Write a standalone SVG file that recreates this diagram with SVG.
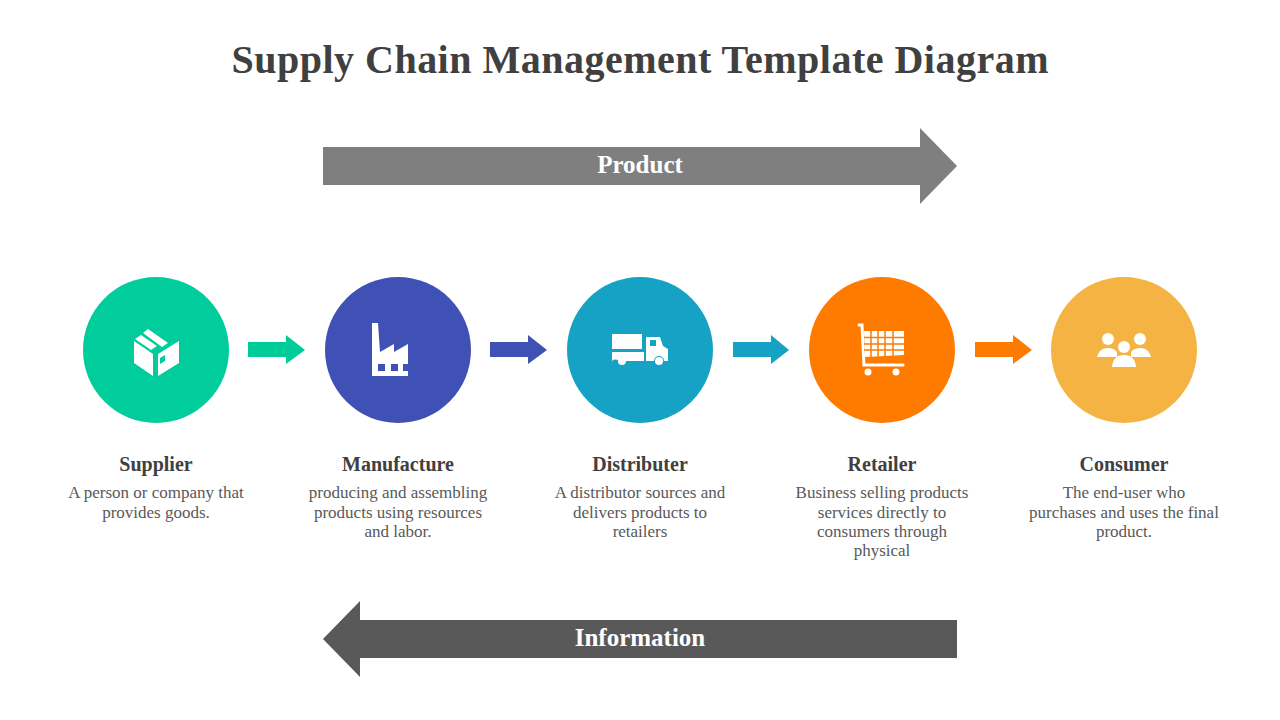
<svg xmlns="http://www.w3.org/2000/svg" width="1280" height="720" viewBox="0 0 1280 720">
<style>
.t{font-family:"Liberation Serif","DejaVu Serif",serif;fill:#404040}
.h{font-weight:bold;font-size:20px;text-anchor:middle}
.d{font-size:17px;text-anchor:middle;fill:#595959}
.w{fill:#fff}
</style>
<rect width="1280" height="720" fill="#fff"/>
<text class="t" x="640" y="73" font-size="40" font-weight="bold" text-anchor="middle" textLength="817" lengthAdjust="spacing">Supply Chain Management Template Diagram</text>
<g id="connectors">
<path d="M323 147H920V128L957 166L920 204V185H323Z" fill="#7f7f7f"/>
<text class="t" x="640" y="173" font-size="25" font-weight="bold" text-anchor="middle" style="fill:#fff">Product</text>
<path d="M957 620H360V601L323 639L360 677V658H957Z" fill="#595959"/>
<text class="t" x="640" y="646" font-size="25" font-weight="bold" text-anchor="middle" style="fill:#fff">Information</text>
<path d="M248 342H286V335L305 350L286 364V357H248Z" fill="#00cc99"/>
<path d="M490 342H528V335L547 350L528 364V357H490Z" fill="#3f51b5"/>
<path d="M733 342H771V335L789 350L771 364V357H733Z" fill="#16a2c4"/>
<path d="M975 342H1013V335L1032 350L1013 364V357H975Z" fill="#ff7b00"/>
</g>
<g id="supplier">
<circle cx="156" cy="350" r="73" fill="#00cc9c"/>
<path class="w" d="M134 341L153 354V376L134 363ZM158 354L179 341V363L158 376ZM135 339L141 335L157 346L151 350ZM143 333L148 329L168 343L162 347Z"/>
<path d="M160 358L165 355V361L160 364Z" fill="#00cc9c"/>
<text class="t h" x="156" y="471">Supplier</text>
<text class="t d" x="156" y="498">A person or company that</text>
<text class="t d" x="156" y="518">provides goods.</text>
</g>
<g id="manufacture">
<circle cx="398" cy="350" r="73" fill="#3f51b5"/>
<path class="w" d="M372 376V323H378L380 352L394 344V352L408 344V376Z"/>
<rect x="378" y="364" width="7" height="7" fill="#3f51b5"/><rect x="391" y="364" width="7" height="7" fill="#3f51b5"/><rect x="403" y="364" width="7" height="7" fill="#3f51b5"/>
<text class="t h" x="398" y="471">Manufacture</text>
<text class="t d" x="398" y="498">producing and assembling</text>
<text class="t d" x="398" y="518">products using resources</text>
<text class="t d" x="398" y="537">and labor.</text>
</g>
<g id="distributer">
<circle cx="640" cy="350" r="73" fill="#16a2c4"/>
<rect class="w" x="612" y="334" width="30" height="15"/>
<path class="w" d="M612 352H644V361H619A5 5 0 0 0 612 361ZM646 337H660L663 346L668 349V361H664A5 5 0 0 0 654 361H646Z"/>
<rect x="650" y="340" width="6" height="6" fill="#16a2c4"/>
<circle class="w" cx="622" cy="361" r="4"/><circle class="w" cx="659" cy="361" r="4"/>
<text class="t h" x="640" y="471">Distributer</text>
<text class="t d" x="640" y="498">A distributor  sources and</text>
<text class="t d" x="640" y="518">delivers products to</text>
<text class="t d" x="640" y="537">retailers</text>
</g>
<g id="retailer">
<circle cx="882" cy="350" r="73" fill="#ff7b00"/>
<path d="M859 325H862L864 365H903" fill="none" stroke="#fff" stroke-width="3" stroke-linecap="round"/>
<path class="w" d="M864 331H904V355L865 357Z"/>
<path d="M864 337.5H904M864 344H904M864 350H904M871 331V357M878 331V357M885 331V357M893 331V357" stroke="#ff7b00" stroke-width="1.5"/>
<circle class="w" cx="868" cy="372" r="3.5"/><circle class="w" cx="896" cy="372" r="3.5"/>
<text class="t h" x="882" y="471">Retailer</text>
<text class="t d" x="882" y="498">Business selling products</text>
<text class="t d" x="882" y="518">services directly to</text>
<text class="t d" x="882" y="537">consumers through</text>
<text class="t d" x="882" y="556">physical</text>
</g>
<g id="consumer">
<circle cx="1124" cy="350" r="73" fill="#f4b342"/>
<circle class="w" cx="1108" cy="339" r="6"/><circle class="w" cx="1140" cy="339" r="6"/><circle class="w" cx="1124" cy="347" r="6"/>
<path class="w" d="M1097 357Q1099 348 1108 348Q1114 348 1117 352L1117 357ZM1131 357V352Q1134 348 1140 348Q1149 348 1151 357Z"/>
<path class="w" d="M1112 367Q1113 355 1124 355Q1135 355 1136 367Z"/>
<text class="t h" x="1124" y="471">Consumer</text>
<text class="t d" x="1124" y="498">The end-user who</text>
<text class="t d" x="1124" y="518">purchases and uses the final</text>
<text class="t d" x="1124" y="537">product.</text>
</g>
</svg>
